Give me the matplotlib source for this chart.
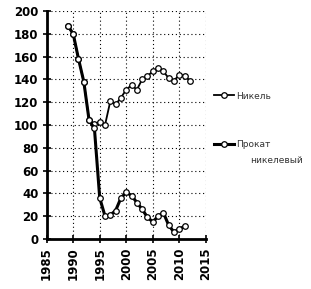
import matplotlib
matplotlib.use("Agg")
import matplotlib.pyplot as plt

# data
years_nickel = list(range(1989, 2013))
nickel = [187, 180, 158, 138, 104, 101, 103, 100, 121, 118, 124, 131,
          135, 131, 140, 143, 147, 150, 147, 141, 139, 144, 143, 139]

years_prokat = list(range(1989, 2012))
prokat = [187, 180, 158, 138, 104, 97, 36, 20, 21, 25, 36, 41,
          38, 32, 26, 19, 15, 20, 23, 12, 6, 9, 11]

labels = ["Никель", "Прокат", "никелевый"]
x_ticks = [1985, 1990, 1995, 2000, 2005, 2010, 2015]
y_ticks = list(range(0, 201, 20))

fig = plt.figure(figsize=(3.11, 2.89), dpi=100)
ax = fig.add_axes([0.150, 0.173, 0.512, 0.789])

style = dict(color="black", marker="o", markersize=4,
             markerfacecolor="white", markeredgecolor="black",
             markeredgewidth=0.9)
ax.plot(years_nickel, nickel, linewidth=1.3, label=labels[0], **style)
ax.plot(years_prokat, prokat, linewidth=2.2, label=labels[1], **style)

ax.set_xlim(1985, 2015)
ax.set_ylim(0, 200)
ax.set_xticks(x_ticks)
ax.set_yticks(y_ticks)
ax.tick_params(axis="x", labelrotation=90, direction="inout", length=6,
               width=1.2, labelsize=8.5, pad=3)
ax.tick_params(axis="y", direction="inout", length=6, width=1.2,
               labelsize=8.5, pad=3)
for lbl in ax.get_xticklabels() + ax.get_yticklabels():
    lbl.set_fontweight("bold")

ax.grid(True, linestyle=(0, (1, 2.5)), color="black", linewidth=0.8)
for side in ("top", "right"):
    ax.spines[side].set_visible(False)
for side in ("left", "bottom"):
    ax.spines[side].set_linewidth(2)

ax.legend(loc="center left", bbox_to_anchor=(1.0, 0.52), frameon=False,
          fontsize=6.5, labelspacing=4.4, handlelength=2.2,
          handletextpad=0.3, labelcolor="#333333")
# second line of the rolled-nickel label, indented under the first one
ax.text(1.275, 0.345, labels[2], transform=ax.transAxes, fontsize=6.5,
        color="#333333", va="center", ha="left")

fig.savefig("out.png", dpi=100)
